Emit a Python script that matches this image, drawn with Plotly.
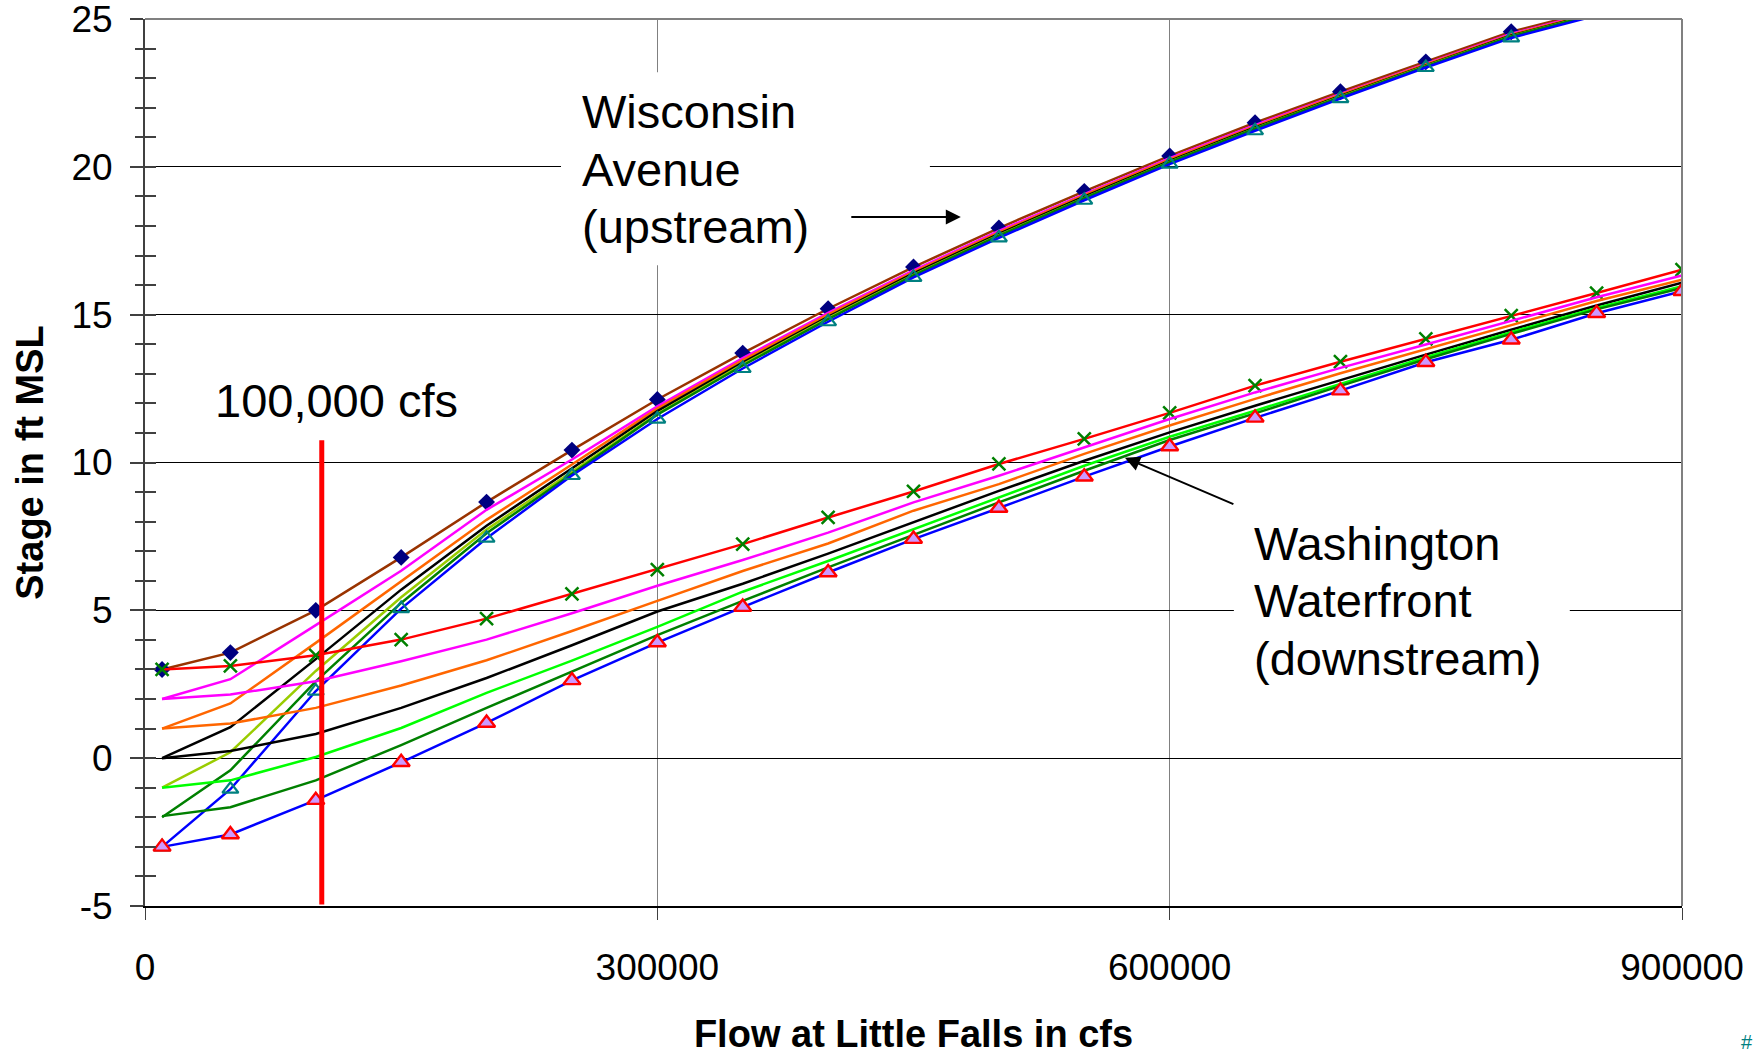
import plotly.graph_objects as go

# ---------------- data ----------------
FLOW = [10000, 50000, 100000, 150000, 200000, 250000, 300000, 350000, 400000, 450000,
        500000, 550000, 600000, 650000, 700000, 750000, 800000, 850000, 900000]
FLOW_UP = FLOW[:18]

# Wisconsin Avenue (upstream) stage for downstream boundary stages 3 .. -3 ft
UP_P3 = [3.0, 3.57, 5.0, 6.79, 8.66, 10.42, 12.13, 13.7, 15.2, 16.61, 17.93, 19.17, 20.37, 21.49, 22.54, 23.55, 24.57, 25.3]
UP_P2 = [2.0, 2.67, 4.5, 6.34, 8.4, 10.1, 11.9, 13.53, 15.06, 16.5, 17.83, 19.08, 20.29, 21.41, 22.47, 23.49, 24.5, 25.25]
UP_P1 = [1.0, 1.85, 3.9, 5.98, 8.06, 9.93, 11.82, 13.46, 15.0, 16.45, 17.78, 19.04, 20.25, 21.37, 22.44, 23.46, 24.47, 25.22]
UP_0 = [0.0, 1.05, 3.35, 5.7, 7.86, 9.8, 11.74, 13.38, 14.93, 16.4, 17.73, 18.99, 20.2, 21.33, 22.4, 23.43, 24.44, 25.2]
UP_M1 = [-1.0, 0.2, 2.95, 5.44, 7.73, 9.69, 11.65, 13.32, 14.88, 16.35, 17.69, 18.95, 20.17, 21.3, 22.37, 23.41, 24.42, 25.18]
UP_M2 = [-2.0, -0.41, 2.6, 5.25, 7.61, 9.63, 11.62, 13.28, 14.85, 16.33, 17.67, 18.94, 20.16, 21.29, 22.36, 23.4, 24.41, 25.17]
UP_M3 = [-3.0, -1.05, 2.27, 5.06, 7.44, 9.56, 11.47, 13.18, 14.76, 16.26, 17.6, 18.87, 20.09, 21.22, 22.31, 23.36, 24.36, 25.12]

# Washington Waterfront (downstream) stage
DN_P3 = [3.0, 3.12, 3.48, 4.01, 4.72, 5.56, 6.38, 7.24, 8.14, 9.02, 9.95, 10.8, 11.68, 12.6, 13.41, 14.18, 14.97, 15.73, 16.52]
DN_P2 = [2.0, 2.15, 2.6, 3.28, 4.01, 4.9, 5.83, 6.70, 7.63, 8.65, 9.55, 10.51, 11.47, 12.37, 13.2, 13.99, 14.8, 15.59, 16.33]
DN_P1 = [1.0, 1.17, 1.7, 2.46, 3.31, 4.3, 5.32, 6.33, 7.26, 8.37, 9.27, 10.29, 11.25, 12.15, 13.02, 13.83, 14.66, 15.46, 16.18]
DN_0 = [0.0, 0.24, 0.82, 1.70, 2.71, 3.82, 4.96, 5.9, 6.92, 7.97, 9.04, 10.06, 11.02, 11.92, 12.79, 13.65, 14.49, 15.31, 16.08]
DN_M1 = [-1.0, -0.75, 0.04, 1.02, 2.21, 3.3, 4.44, 5.63, 6.67, 7.75, 8.82, 9.89, 10.87, 11.75, 12.66, 13.56, 14.41, 15.23, 15.96]
DN_M2 = [-1.96, -1.66, -0.75, 0.44, 1.70, 2.93, 4.16, 5.32, 6.45, 7.55, 8.65, 9.72, 10.76, 11.66, 12.59, 13.49, 14.35, 15.18, 15.9]
DN_M3 = [-3.0, -2.58, -1.42, -0.14, 1.19, 2.63, 3.91, 5.11, 6.28, 7.41, 8.46, 9.52, 10.54, 11.51, 12.43, 13.39, 14.15, 15.05, 15.79]

# 100,000 cfs reference marker line
REF_FLOW = [103500, 103500]
REF_STAGE = [-4.95, 10.75]

X_TICKS = [0, 300000, 600000, 900000]
X_TICKTEXT = ["0", "300000", "600000", "900000"]
Y_TICKS = [-5, 0, 5, 10, 15, 20, 25]
Y_TICKTEXT = ["-5", "0", "5", "10", "15", "20", "25"]

FONT = "Liberation Sans, Arial, sans-serif"

fig = go.Figure()

LW = 2.5
up_series = [
    ("Wisconsin Ave (WW 3 ft)", UP_P3, "#993300",
     dict(symbol="diamond", size=13, color="#000080")),
    ("Wisconsin Ave (WW 2 ft)", UP_P2, "#FF00FF", None),
    ("Wisconsin Ave (WW 1 ft)", UP_P1, "#FF6600", None),
    ("Wisconsin Ave (WW 0 ft)", UP_0, "#000000", None),
    ("Wisconsin Ave (WW -1 ft)", UP_M1, "#99CC00", None),
    ("Wisconsin Ave (WW -2 ft)", UP_M2, "#008000", None),
    ("Wisconsin Ave (WW -3 ft)", UP_M3, "#0000FF",
     dict(symbol="triangle-up-open", size=14, color="#008080", line=dict(width=2.2, color="#008080"))),
]
dn_series = [
    ("Washington Waterfront (3 ft)", DN_P3, "#FF0000",
     dict(symbol="x-thin", size=13, color="#008000", line=dict(width=2.5, color="#008000"))),
    ("Washington Waterfront (2 ft)", DN_P2, "#FF00FF", None),
    ("Washington Waterfront (1 ft)", DN_P1, "#FF6600", None),
    ("Washington Waterfront (0 ft)", DN_0, "#000000", None),
    ("Washington Waterfront (-1 ft)", DN_M1, "#00FF00", None),
    ("Washington Waterfront (-2 ft)", DN_M2, "#008000", None),
    ("Washington Waterfront (-3 ft)", DN_M3, "#0000FF",
     dict(symbol="triangle-up", size=15, color="#CC99FF", line=dict(width=2.4, color="#FF0000"))),
]

for name, ys, col, mk in up_series:
    fig.add_trace(go.Scatter(
        x=FLOW_UP, y=ys, name=name,
        mode="lines+markers" if mk else "lines",
        line=dict(color=col, width=LW),
        marker=mk if mk else None,
    ))
for name, ys, col, mk in dn_series:
    fig.add_trace(go.Scatter(
        x=FLOW, y=ys, name=name,
        mode="lines+markers" if mk else "lines",
        line=dict(color=col, width=LW),
        marker=mk if mk else None,
    ))

fig.add_trace(go.Scatter(
    x=REF_FLOW, y=REF_STAGE, name="100,000 cfs", mode="lines",
    line=dict(color="#FF0000", width=5), yaxis="y2",
))

# ---------------- annotations ----------------
txt_font = dict(family=FONT, size=47, color="#000000")
ann = []
for text, y in [("Wisconsin", 21.88), ("Avenue", 19.92), ("(upstream)", 17.99)]:
    ann.append(dict(x=255000, y=y, xref="x", yref="y", text=text, showarrow=False,
                    xanchor="left", yanchor="middle", font=txt_font))
for text, y in [("Washington", 7.27), ("Waterfront", 5.32), ("(downstream)", 3.37)]:
    ann.append(dict(x=648000, y=y, xref="x", yref="y", text=text, showarrow=False,
                    xanchor="left", yanchor="middle", font=txt_font))
ann.append(dict(x=40000, y=12.09, xref="x", yref="y", text="100,000 cfs", showarrow=False,
                xanchor="left", yanchor="middle", font=txt_font))
# arrows
ann.append(dict(x=477700, y=18.3, ax=412700, ay=18.3, xref="x", yref="y", axref="x", ayref="y",
                text="", showarrow=True, arrowhead=2, arrowsize=1.5, arrowwidth=2,
                arrowcolor="#000000", standoff=0, startstandoff=0))
ann.append(dict(x=573800, y=10.16, ax=638200, ay=8.57, xref="x", yref="y", axref="x", ayref="y",
                text="", showarrow=True, arrowhead=2, arrowsize=1.5, arrowwidth=2,
                arrowcolor="#000000", standoff=0, startstandoff=0))
# small mark at bottom right corner
ann.append(dict(x=1.0423, y=-0.1675, xref="paper", yref="paper", text="#", showarrow=False,
                xanchor="center", yanchor="bottom",
                font=dict(family=FONT, size=20, color="#008080")))

shapes = [
    # white boxes behind the callout texts
    dict(type="rect", xref="x", yref="y", x0=243600, x1=459600, y0=16.67, y1=23.2,
         fillcolor="white", line=dict(width=0), layer="between"),
    dict(type="rect", xref="x", yref="y", x0=637600, x1=834300, y0=1.93, y1=8.54,
         fillcolor="white", line=dict(width=0), layer="between"),
    # gray top and right border of the plot area
    dict(type="line", xref="paper", yref="paper", x0=0, x1=1, y0=1, y1=1,
         line=dict(color="#808080", width=2), layer="above"),
    dict(type="line", xref="paper", yref="paper", x0=1, x1=1, y0=0, y1=1,
         line=dict(color="#808080", width=2), layer="above"),
]

fig.update_layout(
    width=1764, height=1055,
    margin=dict(l=145, r=82, t=19, b=149),
    paper_bgcolor="white", plot_bgcolor="white",
    showlegend=False,
    font=dict(family=FONT, color="#000000"),
    annotations=ann, shapes=shapes,
    xaxis=dict(
        range=[0, 900000], tickvals=X_TICKS, ticktext=X_TICKTEXT,
        showgrid=True, gridcolor="#808080", gridwidth=1,
        zeroline=False, showline=True, linecolor="#000000", linewidth=2,
        ticks="outside", ticklen=12, tickwidth=1, tickcolor="#404040",
        ticklabelstandoff=16, ticklabeloverflow="allow",
        tickfont=dict(family=FONT, size=37, color="#000000"),
        title=dict(text="Flow at Little Falls in cfs", standoff=35,
                   font=dict(family=FONT, size=38, color="#000000", weight="bold")),
        automargin=False,
    ),
    yaxis=dict(
        range=[-5, 25], tickvals=Y_TICKS, ticktext=Y_TICKTEXT,
        showgrid=True, gridcolor="#000000", gridwidth=1,
        zeroline=False, showline=True, linecolor="#404040", linewidth=2,
        ticks="outside", ticklen=13, tickwidth=2, tickcolor="#404040",
        minor=dict(dtick=1, ticks="outside", ticklen=8, tickwidth=2, tickcolor="#404040", showgrid=False),
        ticklabelstandoff=10, ticklabeloverflow="allow",
        tickfont=dict(family=FONT, size=37, color="#000000"),
        title=dict(text="Stage in ft MSL", standoff=16,
                   font=dict(family=FONT, size=38, color="#000000", weight="bold")),
        automargin=False,
    ),
    yaxis2=dict(
        range=[-5, 25], overlaying="y", side="left", showgrid=False, zeroline=False,
        showline=False, showticklabels=False,
        tickvals=Y_TICKS, ticks="inside", ticklen=0,
        minor=dict(dtick=1, ticks="inside", ticklen=11, tickwidth=2, tickcolor="#404040", showgrid=False),
    ),
)

fig.write_html("out.html")
